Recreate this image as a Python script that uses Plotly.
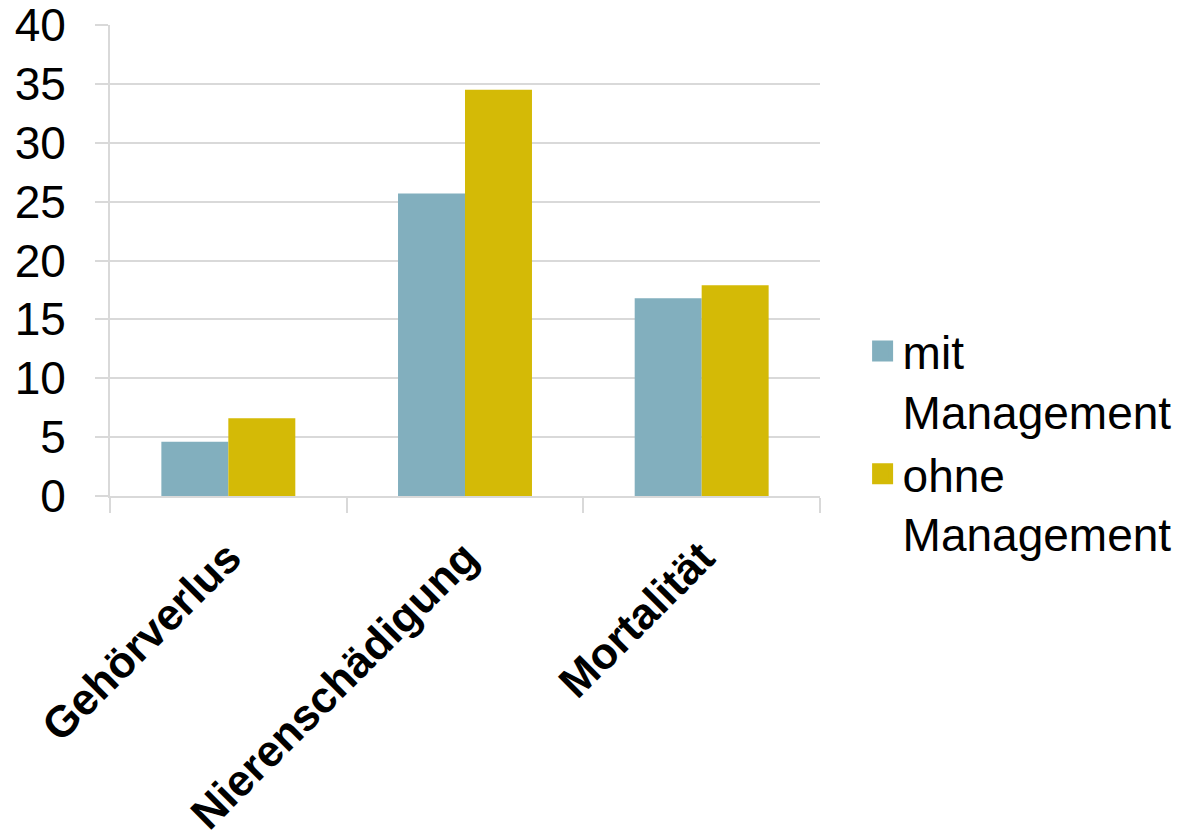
import plotly.graph_objects as go

categories = ["Gehörverlus", "Nierenschädigung", "Mortalität"]
mit_management = [4.6, 25.7, 16.8]
ohne_management = [6.6, 34.5, 17.9]
series_names = ["mit<br>Management", "ohne<br>Management"]
y_ticks = [0, 5, 10, 15, 20, 25, 30, 35, 40]

BLUE = "#82AFBE"
YELLOW = "#D4BA06"
GRID = "#D9D9D9"
FONT = "Arial, Liberation Sans, Helvetica, sans-serif"

fig = go.Figure()
for name, values, color in [(series_names[0], mit_management, BLUE),
                            (series_names[1], ohne_management, YELLOW)]:
    fig.add_trace(go.Bar(x=categories, y=values, name=name, legendgroup=name,
                         showlegend=False,
                         marker=dict(color=color, line=dict(width=0))))
    # legend entry with a larger square swatch
    fig.add_trace(go.Scatter(x=[None], y=[None], mode="markers", name=name,
                             legendgroup=name,
                             marker=dict(symbol="square", size=16, color=color,
                                         line=dict(width=7, color=color))))

fig.update_layout(
    width=1189, height=840,
    margin=dict(l=110, r=369, t=25, b=344, autoexpand=False),
    paper_bgcolor="white", plot_bgcolor="white",
    barmode="group", bargap=0.434, bargroupgap=0,
    font=dict(family=FONT, color="black"),
    showlegend=True,
    legend=dict(
        x=1.06, xanchor="left", y=0.385, yanchor="top",
        font=dict(size=46, family=FONT, color="black"),
        valign="top", tracegroupgap=0, bgcolor="rgba(0,0,0,0)",
        itemsizing="trace",
    ),
)

fig.update_xaxes(
    type="category", tickangle=-45, automargin=False,
    tickfont=dict(size=44, family=FONT, color="black", weight="bold"),
    showline=True, linecolor=GRID, linewidth=2,
    ticks="outside", tickson="boundaries", ticklen=15, tickcolor=GRID, tickwidth=2,
    ticklabelstandoff=16, ticklabeloverflow="allow",
    showgrid=False,
)
fig.update_yaxes(
    range=[0, 40], tickvals=y_ticks, automargin=False,
    tickfont=dict(size=46, family=FONT, color="black"),
    showline=True, linecolor=GRID, linewidth=2,
    ticks="outside", ticklen=13, tickcolor=GRID, tickwidth=2,
    ticklabelstandoff=20, ticklabeloverflow="allow",
    showgrid=True, gridcolor=GRID, gridwidth=2, zeroline=False,
)

fig.write_html("out.html")
